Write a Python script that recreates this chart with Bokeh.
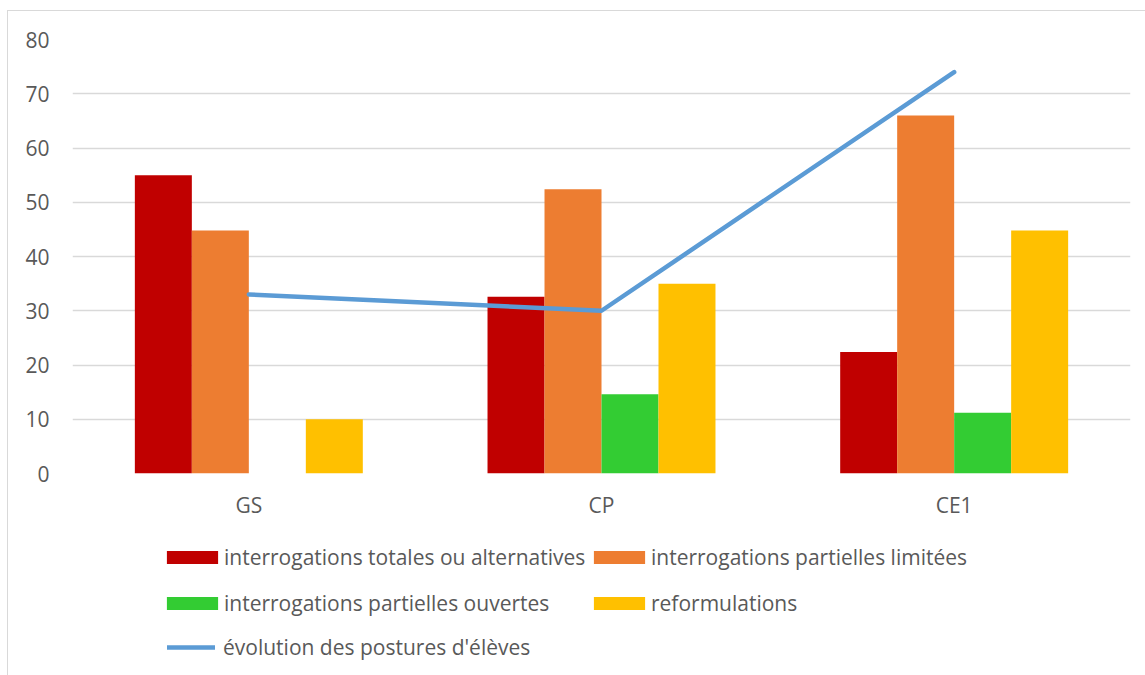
from bokeh.plotting import figure
from bokeh.models import FactorRange, Range1d, Legend, LegendItem, FixedTicker, Column
from bokeh.transform import dodge
from bokeh.embed import file_html
from bokeh.resources import INLINE

categories = ["GS", "CP", "CE1"]
totales = [55, 32.6, 22.4]
limitees = [44.8, 52.4, 66.0]
ouvertes = [0, 14.6, 11.2]
reformulations = [10, 35, 44.8]
postures = [33, 30, 74]
y_ticks = [0, 10, 20, 30, 40, 50, 60, 70, 80]

names = ["interrogations totales ou alternatives", "interrogations partielles limitées",
         "interrogations partielles ouvertes", "reformulations"]
line_name = "évolution des postures d'élèves"
colors = ["#C00000", "#ED7D31", "#33CC33", "#FFC000"]
line_color = "#5B9BD5"
FONT = "Open Sans"
TXT = "#595959"
FS = "21px"

data = dict(cat=categories, a=totales, b=limitees, c=ouvertes, d=reformulations, p=postures)
keys = ["a", "b", "c", "d"]
bw = 0.1616
offs = [-1.5 * bw, -0.5 * bw, 0.5 * bw, 1.5 * bw]

xr = FactorRange(factors=categories, range_padding=0)

# ---------------- main chart ----------------
p = figure(x_range=xr, y_range=Range1d(0, 80),
           width=1145, height=530, output_backend="svg", toolbar_location=None,
           min_border_left=72, min_border_right=15, min_border_top=39, min_border_bottom=57)
p.border_fill_color = None
p.background_fill_color = None
p.outline_line_color = None

for key, off, col in zip(keys, offs, colors):
    p.vbar(x=dodge("cat", off, range=xr), top=key, width=bw, source=data,
           fill_color=col, line_color=None)
p.line(x="cat", y="p", source=data, line_color=line_color, line_width=4.5,
       line_cap="round", line_join="round")

p.yaxis.ticker = FixedTicker(ticks=y_ticks)
for ax in [p.xaxis[0], p.yaxis[0]]:
    ax.axis_line_color = None
    ax.major_tick_line_color = None
    ax.minor_tick_line_color = None
    ax.major_tick_in = 0
    ax.major_tick_out = 0
    ax.major_label_text_font = FONT
    ax.major_label_text_font_size = FS
    ax.major_label_text_color = TXT
p.yaxis.major_label_standoff = 23
p.xaxis.major_label_standoff = 17
p.xgrid.grid_line_color = None
p.ygrid.grid_line_color = "#D9D9D9"
p.ygrid.grid_line_width = 1.5

# ---------------- legend strip (same series, drawn outside its visible y range) ----------------
lg = figure(width=1145, height=145, output_backend="svg", toolbar_location=None,
            x_range=xr, y_range=Range1d(1000, 1001),
            x_axis_location=None, y_axis_location=None,
            min_border_left=0, min_border_right=0, min_border_top=0, min_border_bottom=0)
lg.border_fill_color = None
lg.background_fill_color = None
lg.outline_line_color = None
lg.grid.visible = False

swatches = []
for key, off, col in zip(keys, offs, colors):
    swatches.append(lg.vbar(x=dodge("cat", off, range=xr), top=key, width=bw, source=data,
                            fill_color=col, line_color=None))
swatches.append(lg.line(x="cat", y="p", source=data, line_color=line_color, line_width=4.5,
                        line_cap="round"))

labels = names + [line_name]
pos = [(88, 104), (515, 104), (88, 58), (515, 58), (95, 14)]
gw = [64, 64, 64, 64, 48]
gh = [16, 16, 16, 16, 16]
stand = [0, 0, 0, 0, 8]
for lab, r, loc, w, h, s in zip(labels, swatches, pos, gw, gh, stand):
    leg = Legend(items=[LegendItem(label=lab, renderers=[r])], location=loc,
                 padding=0, margin=0, spacing=0, border_line_color=None,
                 background_fill_alpha=0, glyph_width=w, glyph_height=h,
                 label_height=13, label_standoff=s,
                 label_text_font=FONT, label_text_font_size=FS, label_text_color=TXT)
    lg.add_layout(leg, "center")

layout = Column(children=[p, lg], spacing=0,
                styles={"box-shadow": "inset 0 10px 0 #ffffff, inset 7px 0 0 #ffffff, "
                                      "inset 0 11px 0 #D9D9D9, inset 8px 0 0 #D9D9D9"})

open("out.html", "w").write(file_html(layout, INLINE))
